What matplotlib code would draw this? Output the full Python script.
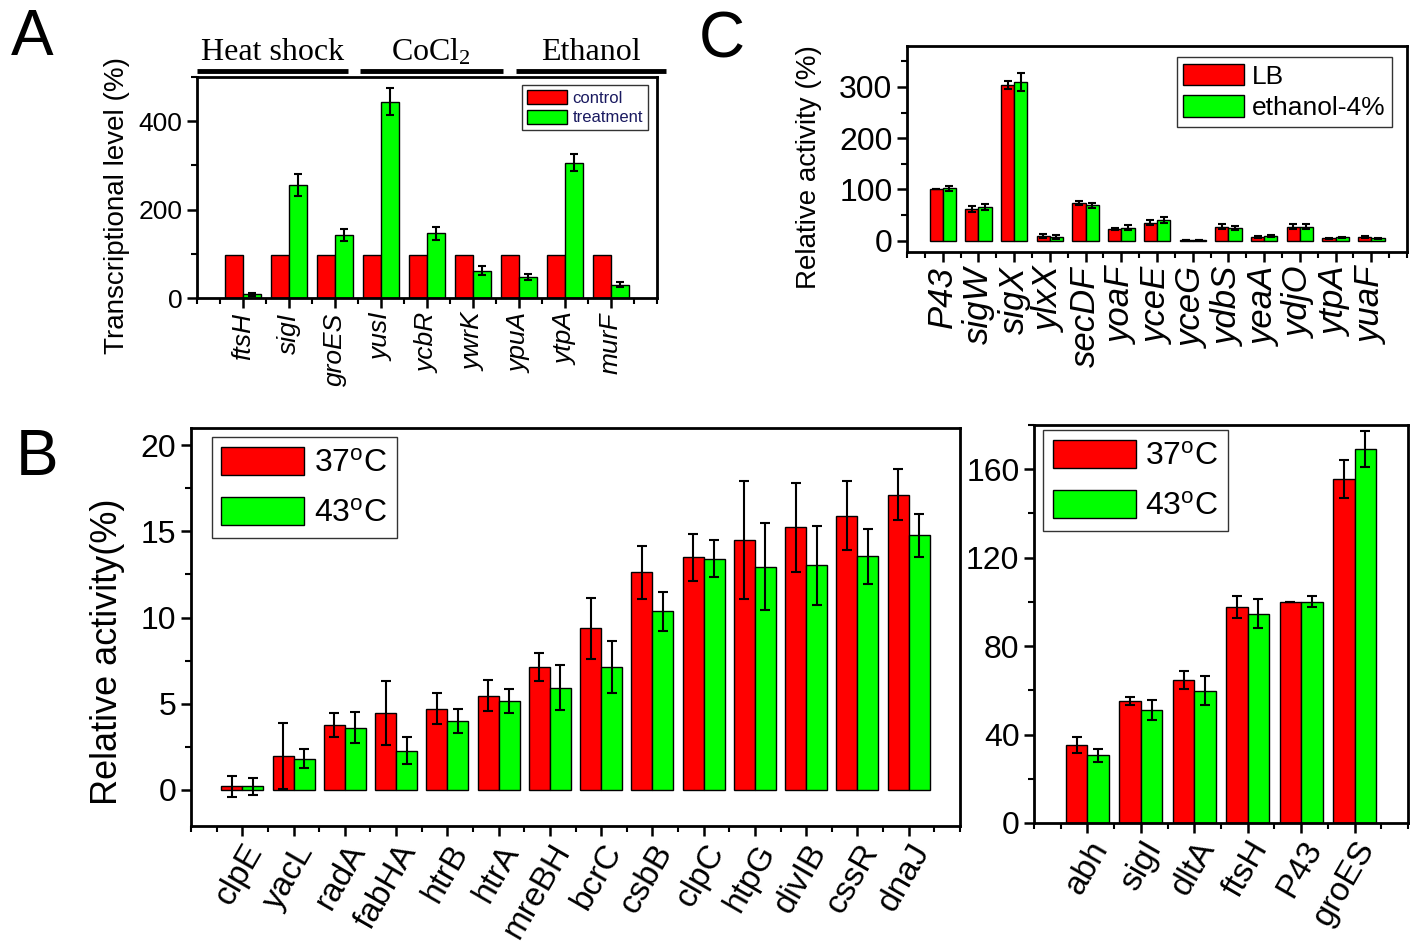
import matplotlib
matplotlib.use("Agg")
import matplotlib.pyplot as plt
import numpy as np
from matplotlib.ticker import MultipleLocator
from matplotlib.lines import Line2D
import matplotlib.transforms as mtransforms

plt.rcParams['font.family'] = ['Liberation Sans', 'DejaVu Sans']
plt.rcParams['mathtext.default'] = 'regular'

RED = '#ff0000'
GREEN = '#00ff00'

# ---------------- data ----------------
# Panel A
a_genes = ['ftsH', 'sigI', 'groES', 'yusI', 'ycbR', 'ywrK', 'ypuA', 'ytpA', 'murF']
a_control = [97, 97, 97, 97, 97, 97, 97, 97, 97]
a_treat = [8, 255, 143, 444, 146, 62, 48, 306, 30]
a_treat_err = [4, 25, 14, 30, 15, 10, 7, 19, 6]
a_series = ['control', 'treatment']
a_groups = ['Heat shock', 'CoCl$_2$', 'Ethanol']

# Panel C
c_genes = ['P43', 'sigW', 'sigX', 'ylxX', 'secDF', 'yoaF', 'yceE', 'yceG',
           'ydbS', 'yeaA', 'ydjO', 'ytpA', 'yuaF']
c_lb = [100, 62, 304, 9, 74, 23, 35, 2, 27, 8, 27, 5, 7]
c_lb_err = [0, 5, 8, 4, 4, 2, 5, 0, 5, 2, 5, 1, 2]
c_eth = [102, 66, 310, 7, 69, 25, 40, 2, 25, 10, 27, 7, 5]
c_eth_err = [5, 6, 18, 4, 5, 5, 6, 0, 4, 2, 5, 1, 1]
c_series = ['LB', 'ethanol-4%']

# Panel B (left)
bl_genes = ['clpE', 'yacL', 'radA', 'fabHA', 'htrB', 'htrA', 'mreBH', 'bcrC',
            'csbB', 'clpC', 'htpG', 'divIB', 'cssR', 'dnaJ']
bl_37 = [0.2, 1.95, 3.77, 4.48, 4.7, 5.46, 7.14, 9.37, 12.62, 13.49, 14.5, 15.23, 15.92, 17.14]
bl_37_err = [0.6, 1.9, 0.7, 1.85, 0.9, 0.9, 0.8, 1.78, 1.56, 1.36, 3.4, 2.6, 2.0, 1.5]
bl_43 = [0.2, 1.8, 3.6, 2.27, 4.0, 5.17, 5.92, 7.14, 10.36, 13.41, 12.96, 13.02, 13.55, 14.77]
bl_43_err = [0.5, 0.55, 0.9, 0.8, 0.7, 0.7, 1.3, 1.5, 1.15, 1.08, 2.5, 2.3, 1.6, 1.25]
b_series = ['37$^{o}$C', '43$^{o}$C']

# Panel B (right)
br_genes = ['abh', 'sigI', 'dltA', 'ftsH', 'P43', 'groES']
br_37 = [35.4, 55.2, 64.8, 97.7, 100, 155.6]
br_37_err = [3.6, 1.7, 4.0, 4.8, 0, 8.5]
br_43 = [30.6, 51.0, 59.8, 94.6, 100, 169.2]
br_43_err = [3.0, 4.6, 6.6, 6.6, 2.5, 8.0]

# ---------------- figure ----------------
W, H = 1414, 943
fig = plt.figure(figsize=(W / 100, H / 100), dpi=100)


def px_axes(l, t, r, b):
    return fig.add_axes([l / W, 1 - b / H, (r - l) / W, (b - t) / H])


def style_axes(ax, lw=2.0):
    for s in ax.spines.values():
        s.set_linewidth(lw)
        s.set_color('black')
    ax.tick_params(which='major', direction='out', length=7, width=1.8)
    ax.tick_params(which='minor', direction='out', length=4, width=1.5)
    ax.xaxis.set_minor_locator(MultipleLocator(0.5))


def grouped(ax, genes, v1, e1, v2, e2, width, capsize, lw_edge=1.0, labels=None):
    x = np.arange(1, len(genes) + 1)
    ekw = dict(ecolor='black', elinewidth=1.5, capthick=1.5)
    b1 = ax.bar(x - width / 2, v1, width, color=RED, edgecolor='black',
                linewidth=lw_edge, yerr=e1, capsize=capsize, error_kw=ekw,
                label=labels[0] if labels else None)
    b2 = ax.bar(x + width / 2, v2, width, color=GREEN, edgecolor='black',
                linewidth=lw_edge, yerr=e2, capsize=capsize, error_kw=ekw,
                label=labels[1] if labels else None)
    ax.set_xlim(0, len(genes) + 1)
    ax.set_xticks(x)
    return b1, b2


# ---------- Panel A ----------
axA = px_axes(197, 77, 657, 298)
grouped(axA, a_genes, a_control, None, a_treat, a_treat_err, 0.4, 3,
        labels=a_series)
axA.set_ylim(0, 500)
axA.yaxis.set_major_locator(MultipleLocator(200))
axA.yaxis.set_minor_locator(MultipleLocator(100))
style_axes(axA)
axA.set_xticklabels(a_genes, rotation=90, style='italic', fontsize=19,
                    ha='center', va='top')
axA.tick_params(axis='y', labelsize=19)
axA.set_ylabel('Transcriptional level (%)', fontsize=20)
axA.yaxis.set_label_coords(-0.146, 0.42)
legA = axA.legend(loc='upper right', bbox_to_anchor=(0.98, 0.964),
                  borderaxespad=0, fontsize=12, frameon=True, fancybox=False,
                  handlelength=2.4, handleheight=0.9, handletextpad=0.3,
                  labelspacing=0.25, borderpad=0.3)
legA.get_frame().set_edgecolor('black')
legA.get_frame().set_linewidth(1.0)
for t in legA.get_texts():
    t.set_color('#1a1a60')

# group labels above panel A
trA = mtransforms.blended_transform_factory(axA.transData, fig.transFigure)
a_group_spans = [(0.0, 3.28), (3.54, 6.65), (6.93, 10.2)]
for name, (x0, x1) in zip(a_groups, a_group_spans):
    fig.add_artist(Line2D([x0, x1], [1 - 71 / H, 1 - 71 / H], transform=trA,
                          color='black', lw=3.5, solid_capstyle='butt'))
    fig.text((x0 + x1) / 2, 1 - 52 / H, name, transform=trA, ha='center',
             va='center', fontsize=23, family=['Liberation Serif', 'DejaVu Serif'])

# ---------- Panel C ----------
axC = px_axes(907, 46, 1407, 252)
grouped(axC, c_genes, c_lb, c_lb_err, c_eth, c_eth_err, 0.37, 3,
        labels=c_series)
axC.set_ylim(-22, 380)
axC.yaxis.set_major_locator(MultipleLocator(100))
axC.yaxis.set_minor_locator(MultipleLocator(50))
style_axes(axC)
axC.set_xticklabels(c_genes, rotation=90, style='italic', fontsize=25,
                    ha='center', va='top')
axC.tick_params(axis='y', labelsize=23)
axC.set_ylabel('Relative activity (%)', fontsize=20)
axC.yaxis.set_label_coords(-0.17, 0.41)
legC = axC.legend(loc='upper right', bbox_to_anchor=(0.97, 0.947),
                  borderaxespad=0, fontsize=19, frameon=True, fancybox=False,
                  handlelength=2.3, handleheight=0.9, handletextpad=0.3,
                  labelspacing=0.25, borderpad=0.25)
legC.get_frame().set_edgecolor('black')
legC.get_frame().set_linewidth(1.0)

# ---------- Panel B left ----------
axBL = px_axes(191, 428, 960, 826)
grouped(axBL, bl_genes, bl_37, bl_37_err, bl_43, bl_43_err, 0.41, 3.5,
        labels=b_series)
axBL.set_ylim(-2.1, 21)
axBL.yaxis.set_major_locator(MultipleLocator(5))
axBL.yaxis.set_minor_locator(MultipleLocator(2.5))
style_axes(axBL)
axBL.set_xticklabels(bl_genes, rotation=60, fontsize=24, ha='right',
                     va='top', rotation_mode='anchor')
axBL.tick_params(axis='x', pad=2)
axBL.tick_params(axis='y', labelsize=23)
axBL.set_ylabel('Relative activity(%)', fontsize=26)
axBL.yaxis.set_label_coords(-0.086, 0.437)
legBL = axBL.legend(loc='upper left', bbox_to_anchor=(0.027, 0.977),
                    borderaxespad=0, fontsize=23, frameon=True, fancybox=False,
                    handlelength=2.6, handleheight=1.0, handletextpad=0.3,
                    labelspacing=0.55, borderpad=0.3)
legBL.get_frame().set_edgecolor('black')
legBL.get_frame().set_linewidth(1.0)

# ---------- Panel B right ----------
axBR = px_axes(1034, 425, 1408, 823)
grouped(axBR, br_genes, br_37, br_37_err, br_43, br_43_err, 0.4, 3.5,
        labels=b_series)
axBR.set_ylim(0, 180)
axBR.yaxis.set_major_locator(MultipleLocator(40))
axBR.yaxis.set_minor_locator(MultipleLocator(20))
style_axes(axBR)
axBR.set_xticklabels(br_genes, rotation=60, fontsize=24, ha='right',
                     va='top', rotation_mode='anchor')
axBR.tick_params(axis='x', pad=2)
axBR.tick_params(axis='y', labelsize=23)
legBR = axBR.legend(loc='upper left', bbox_to_anchor=(0.024, 0.987),
                    borderaxespad=0, fontsize=23, frameon=True, fancybox=False,
                    handlelength=2.6, handleheight=1.0, handletextpad=0.3,
                    labelspacing=0.55, borderpad=0.3)
legBR.get_frame().set_edgecolor('black')
legBR.get_frame().set_linewidth(1.0)

# panel letters
fig.text(32 / W, 1 - 38 / H, 'A', fontsize=46, ha='center', va='center')
fig.text(37 / W, 1 - 458 / H, 'B', fontsize=46, ha='center', va='center')
fig.text(722 / W, 1 - 40 / H, 'C', fontsize=46, ha='center', va='center')

fig.savefig('out.png', dpi=100, facecolor='white')
